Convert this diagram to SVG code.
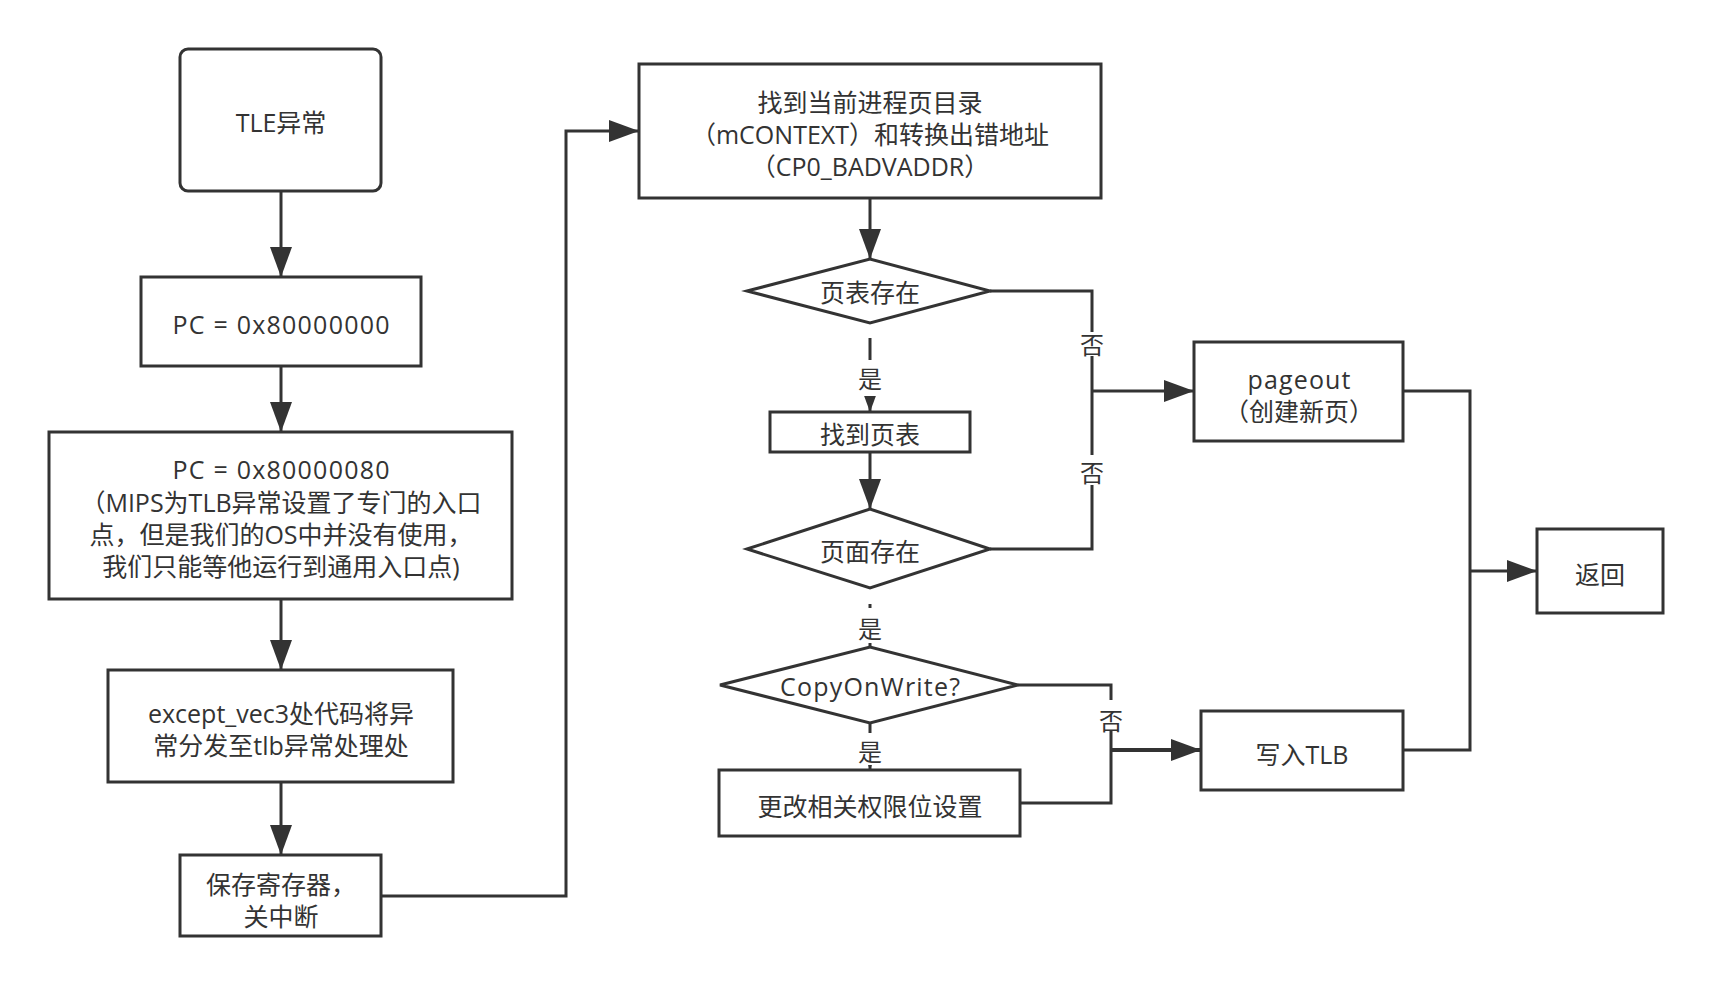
<svg xmlns="http://www.w3.org/2000/svg" width="1713" height="985" viewBox="0 0 1713 985">
<defs>
<marker id="arr" markerUnits="userSpaceOnUse" markerWidth="30" markerHeight="22" refX="30" refY="11" orient="auto">
<path d="M0,0 L30,11 L0,22 z" fill="#333333"/>
</marker>
<style>
.box{fill:#ffffff;stroke:#333333;stroke-width:3}
.edge{fill:none;stroke:#333333;stroke-width:3}
.t{font-family:"Open Sans","Noto Sans CJK SC",sans-serif;font-size:25px;fill:#333333;text-anchor:middle;dominant-baseline:central}
.lbl{font-family:"Open Sans","Noto Sans CJK SC",sans-serif;font-size:24px;fill:#333333;text-anchor:middle;dominant-baseline:central}
.lbg{fill:#ffffff}
</style>
</defs>
<rect width="1713" height="985" fill="#ffffff"/>

<g id="connectors">
<path class="edge" d="M281,191 L281,277" marker-end="url(#arr)"/>
<path class="edge" d="M281,366 L281,432" marker-end="url(#arr)"/>
<path class="edge" d="M281,599 L281,670" marker-end="url(#arr)"/>
<path class="edge" d="M281,782 L281,855" marker-end="url(#arr)"/>
<path class="edge" d="M381,896 L566,896 L566,131 L639,131" marker-end="url(#arr)"/>
<path class="edge" d="M870,198 L870,259" marker-end="url(#arr)"/>
<path class="edge" d="M870,338 L870,412" marker-end="url(#arr)"/>
<path class="edge" d="M870,452 L870,509" marker-end="url(#arr)"/>
<path class="edge" d="M870,604 L870,647"/>
<path class="edge" d="M870,723 L870,770" marker-end="url(#arr)"/>
<path class="edge" d="M990,291 L1092,291 L1092,391"/>
<path class="edge" d="M990,549 L1092,549 L1092,391"/>
<path class="edge" d="M1092,391 L1194,391" marker-end="url(#arr)"/>
<path class="edge" d="M1018,685 L1111,685 L1111,750"/>
<path class="edge" d="M1020,803 L1111,803 L1111,750"/>
<path class="edge" d="M1111,750 L1201,750" marker-end="url(#arr)" style="stroke-width:4"/>
<path class="edge" d="M1403,391 L1470,391 L1470,571"/>
<path class="edge" d="M1403,750 L1470,750 L1470,571"/>
<path class="edge" d="M1470,571 L1537,571" marker-end="url(#arr)"/>
<g id="edge-labels">
<rect class="lbg" x="858" y="360" width="24" height="36"/>
<text class="lbl" x="870" y="378">是</text>
<rect class="lbg" x="858" y="608" width="24" height="35"/>
<text class="lbl" x="870" y="628">是</text>
<rect class="lbg" x="858" y="733" width="24" height="32"/>
<text class="lbl" x="870" y="751">是</text>
<rect class="lbg" x="1080" y="332" width="24" height="24"/>
<text class="lbl" x="1092" y="344">否</text>
<rect class="lbg" x="1080" y="455" width="24" height="30"/>
<text class="lbl" x="1092" y="472">否</text>
<rect class="lbg" x="1099" y="700" width="24" height="30"/>
<text class="lbl" x="1111" y="720">否</text>
</g>
</g>

<g id="n-tle">
<rect class="box" x="180" y="49" width="201" height="142" rx="8"/>
<text class="t" x="281" y="122">TLE异常</text>
</g>
<g id="n-pc1">
<rect class="box" x="141" y="277" width="280" height="89"/>
<text class="t" x="281" y="324" textLength="217" lengthAdjust="spacing">PC = 0x80000000</text>
</g>
<g id="n-pc2">
<rect class="box" x="49" y="432" width="463" height="167"/>
<text class="t" x="281" y="469" textLength="217" lengthAdjust="spacing">PC = 0x80000080</text>
<text class="t" x="281" y="502">（MIPS为TLB异常设置了专门的入口</text>
<text class="t" x="281" y="534">点，但是我们的OS中并没有使用，</text>
<text class="t" x="281" y="566">我们只能等他运行到通用入口点)</text>
</g>
<g id="n-vec3">
<rect class="box" x="108" y="670" width="345" height="112"/>
<text class="t" x="281" y="713">except_vec3处代码将异</text>
<text class="t" x="281" y="745">常分发至tlb异常处理处</text>
</g>
<g id="n-save">
<rect class="box" x="180" y="855" width="201" height="81"/>
<text class="t" x="281" y="884">保存寄存器，</text>
<text class="t" x="281" y="916">关中断</text>
</g>
<g id="n-find-dir">
<rect class="box" x="639" y="64" width="462" height="134"/>
<text class="t" x="870" y="102">找到当前进程页目录</text>
<text class="t" x="870" y="134">（mCONTEXT）和转换出错地址</text>
<text class="t" x="870" y="166">（CP0_BADVADDR）</text>
</g>
<g id="n-pt-exist">
<polygon class="box" points="747,291 870,259 990,291 870,323"/>
<text class="t" x="870" y="292">页表存在</text>
</g>
<g id="n-find-pt">
<rect class="box" x="770" y="412" width="200" height="40"/>
<text class="t" x="870" y="434">找到页表</text>
</g>
<g id="n-page-exist">
<polygon class="box" points="747,549 870,509 990,549 870,588"/>
<text class="t" x="870" y="551">页面存在</text>
</g>
<g id="n-cow">
<polygon class="box" points="720,685 870,647 1018,685 870,723"/>
<text class="t" x="870" y="686" textLength="180" lengthAdjust="spacing">CopyOnWrite?</text>
</g>
<g id="n-perm">
<rect class="box" x="719" y="770" width="301" height="66"/>
<text class="t" x="870" y="806">更改相关权限位设置</text>
</g>
<g id="n-pageout">
<rect class="box" x="1194" y="342" width="209" height="99"/>
<text class="t" x="1299" y="379" textLength="103" lengthAdjust="spacing">pageout</text>
<text class="t" x="1299" y="411">（创建新页）</text>
</g>
<g id="n-tlb">
<rect class="box" x="1201" y="711" width="202" height="79"/>
<text class="t" x="1302" y="754">写入TLB</text>
</g>
<g id="n-return">
<rect class="box" x="1537" y="529" width="126" height="84"/>
<text class="t" x="1600" y="574">返回</text>
</g>
</svg>
